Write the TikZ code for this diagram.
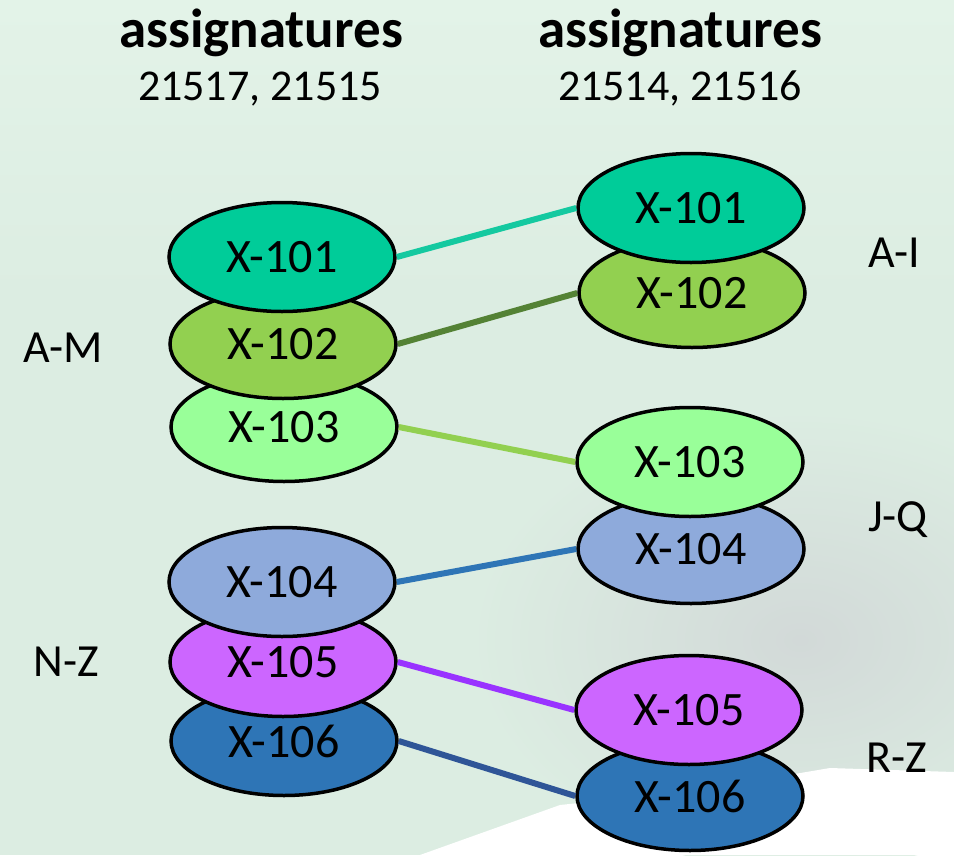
\documentclass[tikz,border=0pt]{standalone}
\usepackage{fontspec}
\setmainfont{Carlito}
\usetikzlibrary{shapes.geometric}

\definecolor{bgmint}{HTML}{DCEDE2}
\definecolor{bgtop}{HTML}{E3F3E8}
\definecolor{bggray}{HTML}{D2D9D8}
\definecolor{fillA}{HTML}{00CC99}
\definecolor{fillB}{HTML}{92D050}
\definecolor{fillC}{HTML}{99FF99}
\definecolor{fillD}{HTML}{8EAADB}
\definecolor{fillE}{HTML}{CC66FF}
\definecolor{fillF}{HTML}{2E75B6}
\definecolor{lineA}{HTML}{14C9A0}
\definecolor{lineB}{HTML}{548235}
\definecolor{lineC}{HTML}{92D050}
\definecolor{lineD}{HTML}{2E75B6}
\definecolor{lineE}{HTML}{9933FF}
\definecolor{lineF}{HTML}{2F5597}

\tikzset{
  blob/.style={ellipse, draw=black, line width=3.5pt, minimum width=226pt,
    minimum height=109pt, inner sep=0pt, font=\fontsize{48}{52}\selectfont},
  link/.style={line width=6pt},
  side/.style={font=\fontsize{46}{50}\selectfont},
  head/.style={anchor=base, font=\bfseries\fontsize{55}{60}\selectfont},
  codes/.style={anchor=base, font=\fontsize{44}{50}\selectfont}
}

\begin{document}
\begin{tikzpicture}[x=1pt,y=-1pt]
\useasboundingbox (0,0) rectangle (954,855);
% background
\begin{scope}
\clip (0,0) rectangle (954,855);
\fill[bgmint] (0,0) rectangle (954,855);
\shade[top color=bgtop, bottom color=bgmint] (0,0) rectangle (954,300);
\shade[inner color=bggray, outer color=bgmint] (800,640) ellipse (330 and 230);
\fill[white] (954,772) -- (830,768) -- (700,790) -- (560,805) -- (420,855) -- (954,855) -- cycle;
\end{scope}

% headers
\node[head] (hl) at (261,47) {assignatures};
\node[codes] (cl) at (260,100) {21517, 21515};
\node[head] (hr) at (680,47) {assignatures};
\node[codes] (cr) at (680,100) {21514, 21516};

% left column, lower ones first
\node[blob, fill=fillC] (l3) at (284,427) {X-103};
\node[blob, fill=fillB] (l2) at (283,344) {X-102};
\node[blob, fill=fillA] (l1) at (282,257) {X-101};
\node[blob, fill=fillF] (l6) at (284,741) {X-106};
\node[blob, fill=fillE] (l5) at (283,662) {X-105};
\node[blob, fill=fillD] (l4) at (282,582) {X-104};

% right column
\node[blob, fill=fillB] (r2) at (692,293) {X-102};
\node[blob, fill=fillA] (r1) at (691,208) {X-101};
\node[blob, fill=fillD] (r4) at (691,549) {X-104};
\node[blob, fill=fillC] (r3) at (690,462) {X-103};
\node[blob, fill=fillF] (r6) at (690,796) {X-106};
\node[blob, fill=fillE] (r5) at (689,710) {X-105};

% groups
\node[side] (am) at (63,348) {A-M};
\node[side] (nz) at (66,662) {N-Z};
\node[side, anchor=base] (ai) at (894,267) {A-I};
\node[side, anchor=base] (jq) at (898,531) {J-Q};
\node[side, anchor=base] (rz) at (897,772) {R-Z};

% links
\draw[link, lineA] (l1.east) -- (r1.west);
\draw[link, lineB] (l2.east) -- (r2.west);
\draw[link, lineC] (l3.east) -- (r3.west);
\draw[link, lineD] (l4.east) -- (r4.west);
\draw[link, lineE] (l5.east) -- (r5.west);
\draw[link, lineF] (l6.east) -- (r6.west);
\end{tikzpicture}
\end{document}
